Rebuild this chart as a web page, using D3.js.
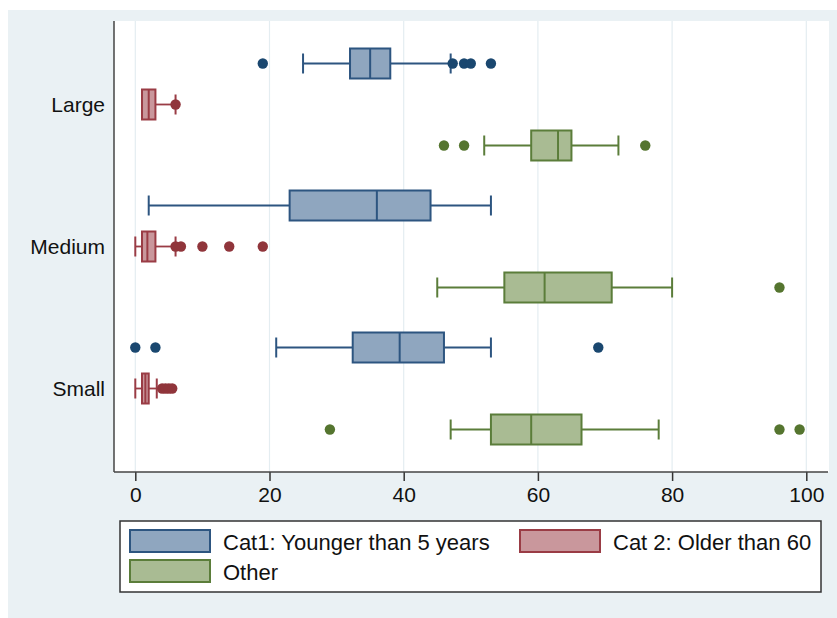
<!DOCTYPE html>
<html>
<head>
<meta charset="utf-8">
<script src="https://cdn.jsdelivr.net/npm/d3@7"></script>
<style>
  body { margin: 0; background: #fff; }
  text { font-family: "Liberation Sans", Arial, sans-serif; }
</style>
</head>
<body>
<svg id="chart" width="837" height="618"></svg>
<script>
// categories / series
const categories = ['Large', 'Medium', 'Small'];
const seriesNames = ['Cat1: Younger than 5 years', 'Cat 2: Older than 60', 'Other'];
const xTicks = [0, 20, 40, 60, 80, 100];

// [lower whisker, q1, median, q3, upper whisker] per category
const cat1Stats = [[25, 32, 35, 38, 47], [2, 23, 36, 44, 53], [21, 32.4, 39.4, 46, 53]];
const cat1Outliers = [[19, 47.3, 49, 50, 53], [], [0, 3, 69]];
const cat2Stats = [[1, 1, 2, 3, 6], [0, 1, 1.8, 3, 6], [0, 1, 1.5, 2, 3.2]];
const cat2Outliers = [[6], [6, 6.8, 10, 14, 19], [4, 4.5, 5, 5.5]];
const otherStats = [[52, 59, 63, 65, 72], [45, 55, 61, 71, 80], [47, 53, 59, 66.5, 78]];
const otherOutliers = [[46, 49, 76], [96], [29, 96, 99]];

const series = [
  { name: seriesNames[0], stats: cat1Stats, outliers: cat1Outliers, stroke: '#2d5580', fill: '#8fa6bf', dot: '#1a476f' },
  { name: seriesNames[1], stats: cat2Stats, outliers: cat2Outliers, stroke: '#9a3c45', fill: '#c9979c', dot: '#90353b' },
  { name: seriesNames[2], stats: otherStats, outliers: otherOutliers, stroke: '#5b7d3a', fill: '#a9bb93', dot: '#55752f' }
];

const svg = d3.select('#chart');
const plot = { left: 114, right: 829, top: 21, bottom: 472 };

// background region
svg.append('rect').attr('x', 8).attr('y', 10).attr('width', 829).attr('height', 608).attr('fill', '#eaf1f4');
svg.append('rect').attr('x', plot.left).attr('y', plot.top)
  .attr('width', plot.right - plot.left).attr('height', plot.bottom - plot.top).attr('fill', '#fff');

const x = d3.scaleLinear().domain([0, 100]).range([135.3, 806.3]);
const y = d3.scaleBand().domain(categories).range([plot.top, plot.bottom]).paddingOuter(0.088).paddingInner(0);
const sub = d3.scalePoint().domain(seriesNames).range([-41, 41]);

// grid lines
svg.append('g').selectAll('line').data(xTicks).enter().append('line')
  .attr('x1', d => x(d)).attr('x2', d => x(d))
  .attr('y1', plot.top).attr('y2', plot.bottom)
  .attr('stroke', '#e4edf1').attr('stroke-width', 1.2);

// x axis
const xAxis = svg.append('g')
  .attr('transform', 'translate(0,' + plot.bottom + ')')
  .call(d3.axisBottom(x).tickValues(xTicks).tickSize(9).tickPadding(6));
xAxis.select('.domain').remove();
xAxis.selectAll('line').attr('stroke', '#333').attr('stroke-width', 1.5);
xAxis.selectAll('text').attr('font-size', 21).attr('fill', '#111')
  .attr('font-family', '"Liberation Sans", Arial, sans-serif');
svg.append('line').attr('x1', plot.left).attr('x2', 828).attr('y1', plot.bottom).attr('y2', plot.bottom)
  .attr('stroke', '#444').attr('stroke-width', 1.5);

// y axis
svg.append('line').attr('x1', plot.left).attr('x2', plot.left).attr('y1', plot.top).attr('y2', plot.bottom)
  .attr('stroke', '#444').attr('stroke-width', 1.5);
svg.append('g').selectAll('text').data(categories).enter().append('text')
  .attr('x', 105).attr('y', d => y(d) + y.bandwidth() / 2)
  .attr('dy', '0.35em').attr('text-anchor', 'end')
  .attr('font-size', 21).attr('fill', '#111')
  .text(d => d);

const boxH = 30, capH = 20;

series.forEach(s => {
  const g = svg.append('g');
  categories.forEach((c, i) => {
    const cy = y(c) + y.bandwidth() / 2 + sub(s.name);
    const [lo, q1, med, q3, hi] = s.stats[i];
    // whiskers
    g.append('line').attr('x1', x(lo)).attr('x2', x(q1)).attr('y1', cy).attr('y2', cy)
      .attr('stroke', s.stroke).attr('stroke-width', 1.8);
    g.append('line').attr('x1', x(q3)).attr('x2', x(hi)).attr('y1', cy).attr('y2', cy)
      .attr('stroke', s.stroke).attr('stroke-width', 1.8);
    [lo, hi].forEach(v => {
      g.append('line').attr('x1', x(v)).attr('x2', x(v)).attr('y1', cy - capH / 2).attr('y2', cy + capH / 2)
        .attr('stroke', s.stroke).attr('stroke-width', 2);
    });
    // box
    g.append('rect').attr('x', x(q1)).attr('y', cy - boxH / 2)
      .attr('width', x(q3) - x(q1)).attr('height', boxH)
      .attr('fill', s.fill).attr('stroke', s.stroke).attr('stroke-width', 2);
    g.append('line').attr('x1', x(med)).attr('x2', x(med)).attr('y1', cy - boxH / 2).attr('y2', cy + boxH / 2)
      .attr('stroke', s.stroke).attr('stroke-width', 2);
    // outliers
    g.selectAll(null).data(s.outliers[i]).enter().append('circle')
      .attr('cx', d => x(d)).attr('cy', cy).attr('r', 5.2).attr('fill', s.dot);
  });
});

// legend
const lg = svg.append('g');
lg.append('rect').attr('x', 120).attr('y', 521).attr('width', 701).attr('height', 71)
  .attr('fill', '#fff').attr('stroke', '#333').attr('stroke-width', 1.5);
const legendPos = [{ x: 130, y: 530 }, { x: 520, y: 530 }, { x: 130, y: 560 }];
series.forEach((s, i) => {
  const p = legendPos[i];
  lg.append('rect').attr('x', p.x).attr('y', p.y).attr('width', 80).attr('height', 22)
    .attr('fill', s.fill).attr('stroke', s.stroke).attr('stroke-width', 2);
  lg.append('text').attr('x', p.x + 93).attr('y', p.y + 12).attr('dy', '0.35em')
    .attr('font-size', 22).attr('fill', '#111').text(s.name);
});
</script>
</body>
</html>
